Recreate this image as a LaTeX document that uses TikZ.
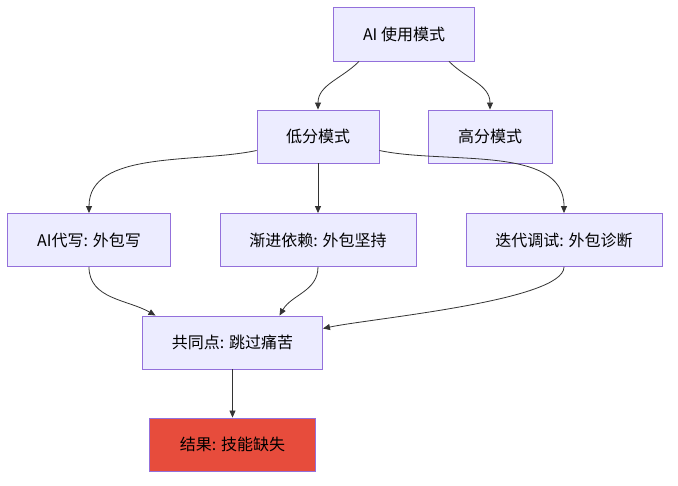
\documentclass[tikz,border=0pt]{standalone}
\usepackage{fontspec}
\setmainfont{Noto Sans CJK SC}
\usetikzlibrary{arrows.meta,calc}
\definecolor{boxfill}{HTML}{ECECFF}
\definecolor{boxline}{HTML}{9370DB}
\definecolor{linkcol}{HTML}{333333}
\definecolor{badfill}{HTML}{E74C3C}

\begin{document}
\begin{tikzpicture}[x=1pt,y=1pt,
		box/.style={draw=boxline,fill=boxfill,line width=0.9pt,minimum height=53pt,font=\fontsize{16}{18}\selectfont,text=black,inner sep=0pt},
		bad/.style={box,fill=badfill},
		link/.style={draw=linkcol,line width=0.8pt,-{Triangle[length=7pt,width=6pt]}}]
		\useasboundingbox (0,0) rectangle (678,-486);
		
		\node[box,minimum width=141pt,minimum height=54pt] (use) at (404,-34) {AI 使用模式};
		\node[box,minimum width=122pt] (low) at (318,-136.5) {低分模式};
		\node[box,minimum width=124pt] (high) at (490,-136.5) {高分模式};
		
		\node[box,minimum width=163pt] (write) at (89,-240) {AI代写: 外包写};
		\node[box,minimum width=196pt] (rely) at (318,-240) {渐进依赖: 外包坚持};
		\node[box,minimum width=196pt] (iter) at (564,-240) {迭代调试: 外包诊断};
		
		\node[box,minimum width=180pt] (common) at (232.5,-342.5) {共同点: 跳过痛苦};
		\node[bad,minimum width=166pt] (result) at (232.5,-444.5) {结果: 技能缺失};
		
		\draw[link] ([xshift=-45pt]use.south) to[out=-135,in=90] (low.north);
		\draw[link] ([xshift=45pt]use.south) to[out=-45,in=90] (high.north);
		
		\draw[link] ([yshift=-14pt]low.west) to[out=192,in=90,looseness=0.9] (write.north);
		\draw[link] (low.south) -- (rely.north);
		\draw[link] ([yshift=-14pt]low.east) to[out=-12,in=90,looseness=0.9] (iter.north);
		
		\draw[link] (write.south) to[out=-90,in=150] ([xshift=-77pt]common.north);
		\draw[link] (rely.south) to[out=-90,in=60] ([xshift=47pt]common.north);
		\draw[link] (iter.south) to[out=-90,in=12,out looseness=0.35,in looseness=0.5] ([yshift=14pt]common.east);
		
		\draw[link] (common.south) -- (result.north);
	\end{tikzpicture}
\end{document}
